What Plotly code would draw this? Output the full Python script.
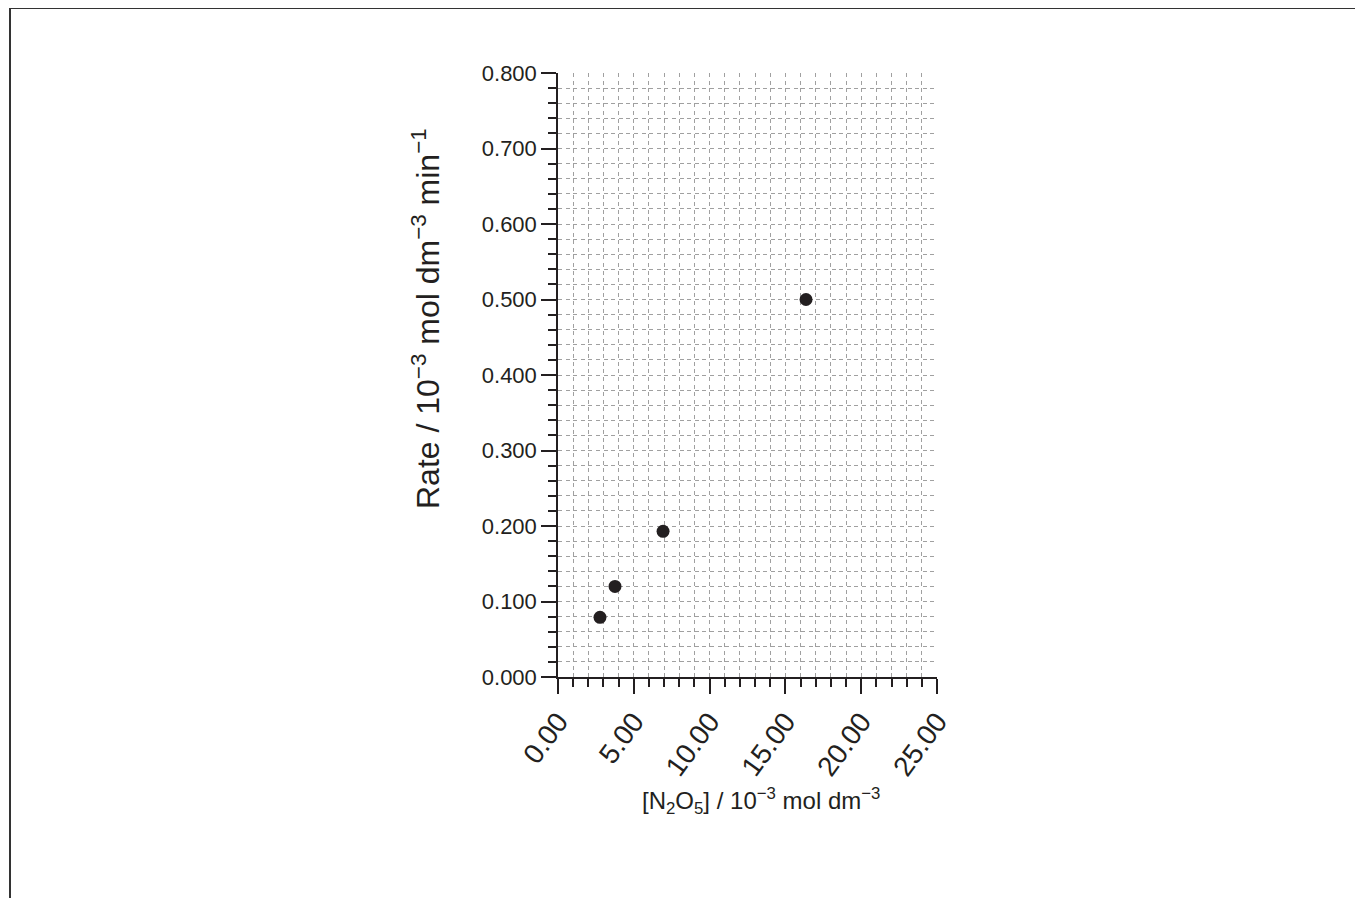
import plotly.graph_objects as go

# Data
conc_n2o5 = [2.77, 3.76, 6.93, 16.36]      # [N2O5] / 10^-3 mol dm^-3
rate = [0.079, 0.120, 0.193, 0.500]        # Rate / 10^-3 mol dm^-3 min^-1

x_range = [0, 25]
y_range = [0, 0.8]

FONT = "Liberation Sans, Arial, Helvetica, sans-serif"
INK = "#231f20"
GRID = "#a0a0a0"
DASH = "4px,3.6px"

fig = go.Figure()
fig.add_trace(go.Scatter(
    x=conc_n2o5, y=rate, mode="markers",
    marker=dict(size=13, color=INK),
    showlegend=False, cliponaxis=False,
))

OFF = 8  # page body margin
W, H = 1355, 890
L, T = 558 - OFF, 73 - OFF
pw, ph = 379, 604
R, B = W - L - pw, H - T - ph


def px(page_x):
    return (page_x - OFF - L) / pw


def py(page_y):
    return (T + ph - (page_y - OFF)) / ph


fig.update_layout(
    width=W, height=H,
    margin=dict(l=L, r=R, t=T, b=B, autoexpand=False),
    paper_bgcolor="white", plot_bgcolor="white",
    font=dict(family=FONT, size=22, color=INK),
    xaxis=dict(
        range=x_range, dtick=5, tick0=0, tickformat=".2f", tickangle=-54,
        showline=True, linecolor=INK, linewidth=1.5,
        ticks="outside", ticklen=15, tickwidth=1.5, tickcolor=INK,
        showgrid=True, gridcolor=GRID, griddash=DASH, gridwidth=1,
        zeroline=False, fixedrange=True,
        minor=dict(dtick=1, ticks="outside", ticklen=8, tickwidth=1.5, tickcolor=INK,
                   showgrid=True, gridcolor=GRID, griddash=DASH, gridwidth=1),
        tickfont=dict(size=28),
    ),
    yaxis=dict(
        range=y_range, dtick=0.1, tick0=0, tickformat=".3f",
        showline=True, linecolor=INK, linewidth=1.5,
        ticks="outside", ticklen=15, tickwidth=1.5, tickcolor=INK,
        showgrid=True, gridcolor=GRID, griddash=DASH, gridwidth=1,
        zeroline=False, fixedrange=True,
        minor=dict(dtick=0.02, ticks="outside", ticklen=8, tickwidth=1.5, tickcolor=INK,
                   showgrid=True, gridcolor=GRID, griddash=DASH, gridwidth=1),
        tickfont=dict(size=22),
    ),
    annotations=[
        dict(text="[N<sub>2</sub>O<sub>5</sub>] / 10<sup>−3</sup> mol dm<sup>−3</sup>",
             xref="paper", yref="paper", x=px(761), y=py(801),
             xanchor="center", yanchor="middle", showarrow=False,
             font=dict(size=24, family=FONT, color=INK)),
        dict(text="Rate / 10<sup>−3</sup> mol dm<sup>−3</sup> min<sup>−1</sup>",
             xref="paper", yref="paper", x=px(426), y=py(319),
             xanchor="center", yanchor="middle", showarrow=False, textangle=-90,
             font=dict(size=32, family=FONT, color=INK)),
    ],
    shapes=[
        dict(type="line", xref="paper", yref="paper",
             x0=px(10), x1=px(1380), y0=py(8), y1=py(8),
             line=dict(color="#333333", width=2)),
        dict(type="line", xref="paper", yref="paper",
             x0=px(10), x1=px(10), y0=py(8), y1=py(920),
             line=dict(color="#333333", width=2)),
    ],
)

fig.write_html("out.html")
